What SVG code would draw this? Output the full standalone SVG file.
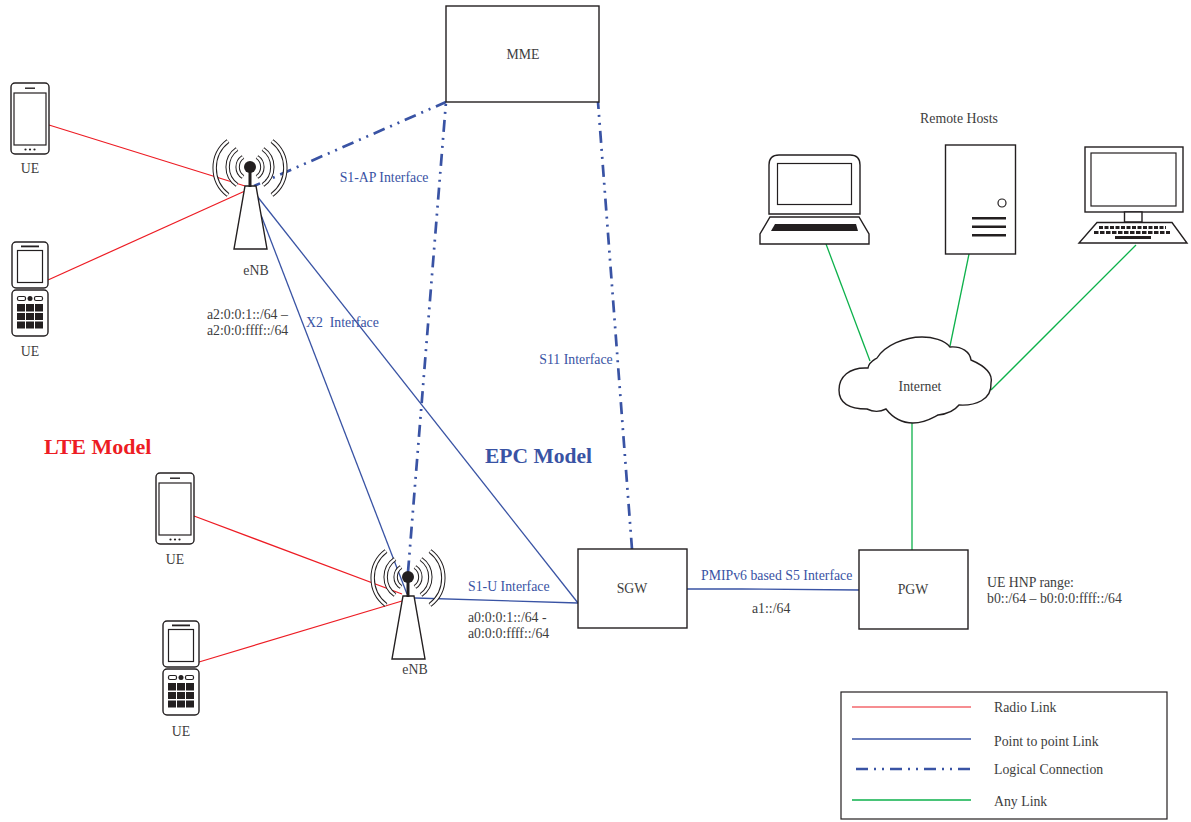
<svg xmlns="http://www.w3.org/2000/svg" width="1191" height="822" viewBox="0 0 1191 822">
<style>
text{font-family:"Liberation Serif","Times New Roman",serif;font-size:13.8px;fill:#3d3d3d;transform:translateY(.8px)}
.b{fill:#3953a4}
.m{text-anchor:middle}
.o{fill:#fff;stroke:#231f20;stroke-width:1.4}
.n{fill:none;stroke:#231f20;stroke-width:1.2}
.k{fill:#231f20;stroke:none}
.red{stroke:#ed1c24;stroke-width:1.2;fill:none}
.blue{stroke:#3953a4;stroke-width:1.3;fill:none}
.log{stroke:#3953a4;stroke-width:2.7;fill:none;stroke-dasharray:12 6 2 6 2 6}
.grn{stroke:#0db14b;stroke-width:1.3;fill:none}
.au{fill:none;stroke:#231f20;stroke-width:4.4;stroke-linecap:butt}
.ai{fill:none;stroke:#fff;stroke-width:2.4}
</style>
<defs>
<g id="smart">
<rect class="o" x="0" y="0" width="38" height="71" rx="4"/>
<rect class="n" x="3" y="10" width="32" height="52"/>
<rect class="k" x="14" y="4.5" width="10" height="1.4"/>
<circle class="k" cx="14.500" cy="66.500" r="1.100"/><circle class="k" cx="19" cy="66.500" r="1.100"/><circle class="k" cx="23.500" cy="66.500" r="1.100"/>
</g>
<g id="flip">
<rect class="o" x="0" y="0" width="36" height="46" rx="4"/>
<rect class="o" x="0" y="48" width="36" height="46" rx="4"/>
<rect class="k" x="9" y="3.500" width="18" height="1.800"/>
<rect class="n" x="5.500" y="8.500" width="25" height="32"/>
<rect class="n" x="5.500" y="54.500" width="8" height="4" rx="1.500"/>
<rect class="n" x="22.500" y="54.500" width="8" height="4" rx="1.500"/>
<circle class="k" cx="18" cy="56.500" r="2.500"/>
<g class="k">
<rect x="5" y="62" width="8" height="7.500"/><rect x="14" y="62" width="8" height="7.500"/><rect x="23" y="62" width="8" height="7.500"/>
<rect x="5" y="71" width="8" height="7"/><rect x="14" y="71" width="8" height="7"/><rect x="23" y="71" width="8" height="7"/>
<rect x="5" y="79.500" width="8" height="7"/><rect x="14" y="79.500" width="8" height="7"/><rect x="23" y="79.500" width="8" height="7"/>
</g>
</g>
<g id="tower">
<path class="o" d="M-5,19H6L17,82H-16Z"/>
<rect class="k" x="-1.500" y="0" width="3" height="20"/>
<circle class="k" cx="0" cy="0" r="6"/>
<path class="au" d="M-22,-26A34,34 0 0 0 -22,28"/><path class="ai" d="M-22,-26A34,34 0 0 0 -22,28"/>
<path class="au" d="M22,-26A34,34 0 0 1 22,28"/><path class="ai" d="M22,-26A34,34 0 0 1 22,28"/>
<path class="au" d="M-13,-18A22,22 0 0 0 -13,18"/><path class="ai" d="M-13,-18A22,22 0 0 0 -13,18"/>
<path class="au" d="M13,-18A22,22 0 0 1 13,18"/><path class="ai" d="M13,-18A22,22 0 0 1 13,18"/>
<path class="au" d="M-7,-10A12,12 0 0 0 -7,10"/><path class="ai" d="M-7,-10A12,12 0 0 0 -7,10"/>
<path class="au" d="M7,-10A12,12 0 0 1 7,10"/><path class="ai" d="M7,-10A12,12 0 0 1 7,10"/>
</g>
</defs>
<rect width="1191" height="822" fill="#fff"/>
<g id="connectors">
<path class="red" d="M49,125L245,186"/>
<path class="red" d="M48,280L245,191"/>
<path class="red" d="M194,516L402,594"/>
<path class="red" d="M199,662L402,601"/>
<path class="blue" d="M257,196L578,603"/>
<path class="blue" d="M261,215L407,594"/>
<path class="blue" d="M415,598L578,603"/>
<path class="blue" d="M687,589H742L859,590"/>
<path class="log" stroke-dashoffset="1" d="M446,102L254,186"/>
<path class="log" stroke-dashoffset="16" d="M446,102L408,572"/>
<path class="log" stroke-dashoffset="5" d="M598,102L632,549"/>
<path class="grn" d="M826,244L870,361"/>
<path class="grn" d="M969,254L950,346"/>
<path class="grn" d="M1136,245L991,390"/>
<path class="grn" d="M912,423V550"/>
</g>
<g id="ue1"><use href="#smart" x="11" y="83"/><text class="m" x="30" y="172">UE</text></g>
<g id="ue2"><use href="#flip" x="12" y="242"/><text class="m" x="30" y="355">UE</text></g>
<g id="ue3"><use href="#smart" x="156" y="473"/><text class="m" x="175" y="563">UE</text></g>
<g id="ue4"><use href="#flip" x="163" y="621"/><text class="m" x="181" y="735">UE</text></g>
<g id="enb1"><use href="#tower" x="250" y="167"/><text class="m" x="256" y="274">eNB</text></g>
<g id="enb2"><use href="#tower" x="408" y="577"/><text class="m" x="415" y="673">eNB</text></g>
<g id="mme"><rect class="o" x="446" y="6" width="153" height="96"/><text class="m" x="523" y="58">MME</text></g>
<g id="sgw"><rect class="o" x="578" y="549" width="109" height="79"/><text class="m" x="632" y="592">SGW</text></g>
<g id="pgw"><rect class="o" x="859" y="550" width="109" height="79"/><text class="m" x="913" y="593">PGW</text></g>
<g id="laptop">
<path class="o" d="M769,214V165Q769,155 779,155H850Q860,155 860,165V214Z"/>
<rect class="n" x="777.500" y="163.500" width="74" height="41"/>
<path class="o" d="M770,217H859L869,234V244H760V234Z"/>
<path class="k" d="M775,224H856L858,231H771Z"/>
</g>
<g id="server">
<rect class="o" x="945.500" y="145" width="70" height="109"/>
<circle class="n" cx="1002" cy="203" r="4"/>
<rect class="k" x="972" y="217" width="34" height="2.500"/><rect class="k" x="972" y="225.500" width="34" height="2.500"/><rect class="k" x="972" y="234" width="34" height="2.500"/>
</g>
<g id="desktop">
<rect class="o" x="1085" y="147" width="98" height="65"/>
<rect class="n" x="1091" y="153" width="85" height="53"/>
<rect class="o" x="1124.500" y="212" width="17.500" height="10"/>
<path class="o" d="M1097,222.500H1172L1187,243H1079Z"/>
<path d="M1099,227.500H1166" stroke="#231f20" stroke-width="3" stroke-dasharray="4 1.500" fill="none"/>
<path d="M1094,232.500H1170" stroke="#231f20" stroke-width="3" stroke-dasharray="4.500 1.500" fill="none"/>
<rect class="k" x="1115" y="236" width="36" height="3"/>
</g>
<g id="internet">
<path class="o" d="M865,368C850,368 839,376 839,390C839,402 848,409 867,409C873,412 880,412 886,409C893,418 902,423 913,423C925,423 932,418 938,415C948,414 955,410 959,405C975,406 992,400 991,383C993,374 985,366 971,360C970,352 962,346 950,347C945,340 932,337 922,337C905,337 885,345 877,358C874,360 869,362 868,368Z"/>
<text class="m" x="920" y="390">Internet</text>
</g>
<text class="m" x="959" y="122">Remote Hosts</text>
<text class="b m" x="384" y="181">S1-AP Interface</text>
<text class="b" x="306" y="326">X2&#160;&#160;Interface</text>
<text x="207" y="318">a2:0:0:1::/64 –</text>
<text x="207" y="334">a2:0:0:ffff::/64</text>
<text class="b m" x="576" y="363">S11 Interface</text>
<text x="44" y="453" style="font-size:22px;font-weight:bold;fill:#ed1c24">LTE Model</text>
<text x="485" y="462" style="font-size:21.500px;font-weight:bold;fill:#3953a4">EPC Model</text>
<text class="b" x="468" y="590">S1-U Interface</text>
<text x="468" y="621">a0:0:0:1::/64 -</text>
<text x="468" y="637">a0:0:0:ffff::/64</text>
<text class="b" x="701" y="579">PMIPv6 based S5 Interface</text>
<text x="752" y="612">a1::/64</text>
<text x="987" y="586">UE HNP range:</text>
<text x="987" y="602">b0::/64 – b0:0:0:ffff::/64</text>
<g id="legend">
<rect x="841" y="692" width="326" height="127" fill="none" stroke="#231f20" stroke-width="1.200"/>
<path class="red" d="M852,707H971"/>
<path class="blue" d="M852,739H971"/>
<path class="log" d="M856,769H971"/>
<path class="grn" d="M852,800H971"/>
<text x="994" y="711">Radio Link</text>
<text x="994" y="745">Point to point Link</text>
<text x="994" y="773">Logical Connection</text>
<text x="994" y="805">Any Link</text>
</g>
</svg>
